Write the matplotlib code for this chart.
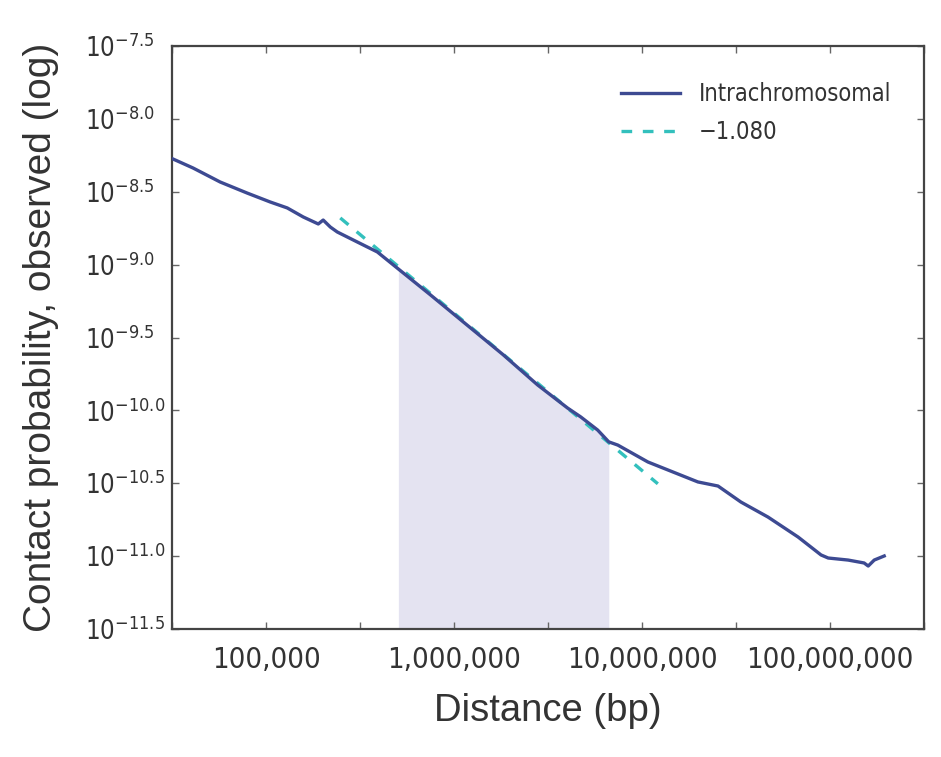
import matplotlib
matplotlib.use("Agg")
import matplotlib.pyplot as plt
from matplotlib.ticker import FixedLocator, FixedFormatter, NullLocator
import numpy as np

# ---- data (log10 values) ----
log_distance = [4.505, 4.612, 4.756, 4.900, 5.022, 5.113, 5.198, 5.278, 5.304, 5.342,
                5.379, 5.486, 5.592, 5.704, 5.875, 6.050, 6.263, 6.445, 6.604, 6.674,
                6.764, 6.823, 6.871, 7.031, 7.297, 7.404, 7.526, 7.670, 7.830, 7.952,
                7.990, 8.096, 8.181, 8.203, 8.235, 8.288]
log_contact = [-8.275, -8.337, -8.433, -8.509, -8.570, -8.611, -8.673, -8.721, -8.694, -8.742,
               -8.776, -8.845, -8.913, -9.030, -9.208, -9.394, -9.620, -9.826, -9.984, -10.045,
               -10.135, -10.216, -10.238, -10.354, -10.491, -10.519, -10.629, -10.732, -10.869, -10.992,
               -11.013, -11.027, -11.047, -11.068, -11.027, -10.999]

fit_slope = -1.080
fit_intercept = -2.853
fit_log_range = [5.395, 7.084]
shade_log_range = [5.704, 6.823]

x_tick_logs = [4.5, 5.0, 5.5, 6.0, 6.5, 7.0, 7.5, 8.0, 8.5]
x_label_logs = [5, 6, 7, 8]
x_labels = ["100,000", "1,000,000", "10,000,000", "100,000,000"]
y_tick_logs = [-11.5, -11.0, -10.5, -10.0, -9.5, -9.0, -8.5, -8.0, -7.5]
y_labels = [r"$\mathregular{10^{-11.5}}$", r"$\mathregular{10^{-11.0}}$", r"$\mathregular{10^{-10.5}}$",
            r"$\mathregular{10^{-10.0}}$", r"$\mathregular{10^{-9.5}}$", r"$\mathregular{10^{-9.0}}$",
            r"$\mathregular{10^{-8.5}}$", r"$\mathregular{10^{-8.0}}$", r"$\mathregular{10^{-7.5}}$"]

series_label = "Intrachromosomal"
fit_label = "\u22121.080"

# ---- figure ----
plt.rcParams['font.family'] = ['DejaVu Sans']
plt.rcParams['font.stretch'] = 'condensed'
fig = plt.figure(figsize=(9.41, 7.57), dpi=100)
ax = fig.add_axes([0.1828, 0.1691, 0.7992, 0.7701])

x = 10 ** np.array(log_distance)
y = 10 ** np.array(log_contact)

line_color = "#3d4a92"
fit_color = "#33c0bd"
shade_color = "#e4e3f1"

# shaded region under the curve
xs = 10 ** np.linspace(shade_log_range[0], shade_log_range[1], 200)
ys = 10 ** np.interp(np.log10(xs), log_distance, log_contact)
ax.fill_between(xs, 10 ** -11.5, ys, color=shade_color, linewidth=0, zorder=1)

ax.plot(x, y, color=line_color, lw=2.4, label=series_label, zorder=3)

fx = 10 ** np.array(fit_log_range)
fy = 10 ** (fit_intercept + fit_slope * np.array(fit_log_range))
ax.plot(fx, fy, color=fit_color, lw=2.4, ls=(0, (3.2, 3.2)), label=fit_label, zorder=2)

ax.set_xscale("log")
ax.set_yscale("log")
ax.set_xlim(10 ** 4.5, 10 ** 8.5)
ax.set_ylim(10 ** -11.5, 10 ** -7.5)

ax.xaxis.set_major_locator(FixedLocator([10 ** v for v in x_label_logs]))
ax.xaxis.set_major_formatter(FixedFormatter(x_labels))
ax.xaxis.set_minor_locator(FixedLocator([10 ** v for v in x_tick_logs if v not in x_label_logs]))
ax.xaxis.set_minor_formatter(FixedFormatter([]))

ax.yaxis.set_major_locator(FixedLocator([10 ** v for v in y_tick_logs]))
ax.yaxis.set_major_formatter(FixedFormatter(y_labels))
ax.yaxis.set_minor_locator(NullLocator())

ax.tick_params(which="both", direction="in", length=5, width=1, color="#666666",
               top=True, right=True)
ax.tick_params(axis="x", which="major", labelsize=21, labelcolor="#333333", pad=12)
ax.tick_params(axis="y", which="major", labelsize=18.5, labelcolor="#333333", pad=63)
for t in ax.get_yticklabels():
    t.set_horizontalalignment("left")

for s in ax.spines.values():
    s.set_color("#444444")
    s.set_linewidth(1.6)

ax.set_xlabel("Distance (bp)", fontsize=27.5, color="#333333", labelpad=14,
              family=['Liberation Sans', 'DejaVu Sans'], fontstretch='normal')
ax.set_ylabel("Contact probability, observed (log)", fontsize=28, color="#333333",
              family=['Liberation Sans', 'DejaVu Sans'], fontstretch='normal')
ax.yaxis.set_label_coords(-0.15, 0.5)

leg = ax.legend(loc="upper right", frameon=False, fontsize=17, handlelength=2.5,
                handletextpad=0.8, labelspacing=0.62, bbox_to_anchor=(0.985, 0.975))
for t in leg.get_texts():
    t.set_color("#333333")

fig.savefig("out.png", dpi=100, facecolor="white")
